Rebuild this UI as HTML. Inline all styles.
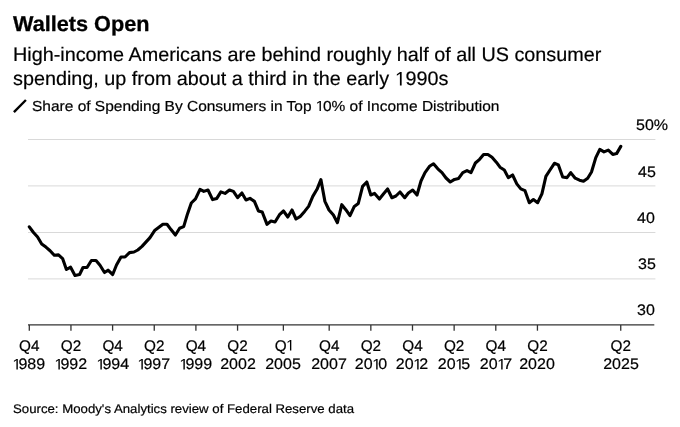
<!DOCTYPE html>
<html><head><meta charset="utf-8"><style>
html,body{margin:0;padding:0;background:#fff;}
body{width:680px;height:427px;position:relative;overflow:hidden;font-family:"Liberation Sans",sans-serif;color:#000;}
.t{position:absolute;white-space:nowrap;line-height:1;}
.t{transform-origin:0 0;}
.t,.xl,.yl{text-rendering:geometricPrecision;}
#wrap{position:absolute;left:0;top:0;width:680px;height:427px;will-change:transform;}
#title{left:13.2px;top:13.9px;font-size:21.5px;font-weight:bold;transform:scaleX(1.008);}
#s1{left:12.7px;top:46px;font-size:19.5px;transform:scaleX(1.0145);}
#s2{left:12.7px;top:70.4px;font-size:19.5px;transform:scaleX(1.0145);}
#lg{left:32.3px;top:100.3px;font-size:14.5px;transform:scaleX(1.068);}
#src{left:12.6px;top:403.3px;font-size:12.5px;transform:scaleX(1.057);}
.xl{position:absolute;width:60px;text-align:center;font-size:15.3px;line-height:1;white-space:nowrap;transform:scale(1.047,1.0);transform-origin:50% 100%;}
.xq{transform:scale(1.0,1.0);}
.o{margin-left:-1.1px;margin-right:-1.6px;}
.t,.xl,.yl{-webkit-text-stroke:0.2px #000;}
#title{-webkit-text-stroke:0.3px #000;}
.yl{position:absolute;font-size:15.3px;line-height:1;white-space:nowrap;transform:scale(1.047,1.0);transform-origin:0 100%;}
svg{position:absolute;left:0;top:0;}
</style></head><body><div id="wrap">
<svg width="680" height="427" viewBox="0 0 680 427">
<line x1="28" y1="139.5" x2="655.4" y2="139.5" stroke="#d9d9d9" stroke-width="1"/><line x1="28" y1="185.9" x2="655.4" y2="185.9" stroke="#d9d9d9" stroke-width="1"/><line x1="28" y1="232.5" x2="655.4" y2="232.5" stroke="#d9d9d9" stroke-width="1"/><line x1="28" y1="278.9" x2="655.4" y2="278.9" stroke="#d9d9d9" stroke-width="1"/>
<line x1="28" y1="324.9" x2="654.3" y2="324.9" stroke="#333" stroke-width="1.2"/>
<line x1="29.30" y1="324.9" x2="29.30" y2="330.7" stroke="#333" stroke-width="1.3"/><line x1="70.95" y1="324.9" x2="70.95" y2="330.7" stroke="#333" stroke-width="1.3"/><line x1="112.60" y1="324.9" x2="112.60" y2="330.7" stroke="#333" stroke-width="1.3"/><line x1="154.25" y1="324.9" x2="154.25" y2="330.7" stroke="#333" stroke-width="1.3"/><line x1="195.90" y1="324.9" x2="195.90" y2="330.7" stroke="#333" stroke-width="1.3"/><line x1="237.56" y1="324.9" x2="237.56" y2="330.7" stroke="#333" stroke-width="1.3"/><line x1="283.37" y1="324.9" x2="283.37" y2="330.7" stroke="#333" stroke-width="1.3"/><line x1="329.19" y1="324.9" x2="329.19" y2="330.7" stroke="#333" stroke-width="1.3"/><line x1="370.84" y1="324.9" x2="370.84" y2="330.7" stroke="#333" stroke-width="1.3"/><line x1="412.49" y1="324.9" x2="412.49" y2="330.7" stroke="#333" stroke-width="1.3"/><line x1="454.14" y1="324.9" x2="454.14" y2="330.7" stroke="#333" stroke-width="1.3"/><line x1="495.79" y1="324.9" x2="495.79" y2="330.7" stroke="#333" stroke-width="1.3"/><line x1="537.44" y1="324.9" x2="537.44" y2="330.7" stroke="#333" stroke-width="1.3"/><line x1="620.74" y1="324.9" x2="620.74" y2="330.7" stroke="#333" stroke-width="1.3"/>
<polyline points="29.3,226.8 33.5,232.5 37.6,237.0 41.7,244.0 45.9,247.1 50.1,250.7 54.3,255.3 58.5,254.9 62.6,258.6 66.4,269.5 70.6,267.2 75.0,275.5 79.6,274.5 83.0,267.5 87.0,267.5 91.4,260.5 96.0,260.5 100.0,265.2 104.5,272.5 108.0,270.2 112.7,274.5 116.5,265.0 121.0,257.0 125.0,257.0 129.5,252.6 134.0,252.0 137.8,250.0 142.0,246.4 150.0,237.6 154.6,230.6 158.6,227.6 162.9,224.3 167.0,224.3 171.0,229.6 175.4,235.0 179.6,228.3 183.7,226.6 187.5,213.9 191.3,203.0 195.5,198.9 200.0,189.3 203.8,191.4 208.0,190.0 212.6,199.6 216.8,198.4 220.9,191.9 225.0,193.4 229.4,190.0 233.4,191.4 237.6,197.6 241.9,193.0 246.0,200.0 250.0,198.4 254.4,201.4 258.4,210.9 262.2,212.0 267.0,224.4 271.0,221.0 275.0,222.0 279.5,214.7 283.5,211.0 287.8,217.0 292.0,210.0 296.0,219.0 300.0,216.7 304.6,211.4 308.6,206.4 312.8,196.4 317.0,189.3 320.9,179.6 324.9,201.4 329.0,210.0 333.4,215.0 337.4,222.7 341.8,204.7 345.8,209.7 350.0,215.7 354.3,206.4 358.3,203.4 362.6,186.4 366.8,182.0 370.8,195.0 374.6,193.4 379.4,199.0 383.4,194.0 387.6,189.0 391.9,197.7 395.9,196.0 400.0,192.0 404.7,197.7 408.4,193.0 412.7,190.0 417.0,195.0 421.0,181.0 425.0,172.6 429.5,166.3 433.5,163.8 437.8,168.8 442.0,172.6 446.0,178.0 450.3,182.0 454.5,179.4 458.6,178.4 462.8,172.6 467.0,170.6 471.0,172.6 475.4,163.0 479.6,159.3 483.6,154.5 487.9,154.5 492.0,157.3 496.3,162.2 500.0,167.2 504.3,170.0 508.3,177.6 512.6,175.0 516.8,183.9 520.8,188.9 525.0,190.7 529.3,202.7 533.4,199.5 537.6,202.7 541.9,193.9 545.9,176.4 550.0,170.0 554.4,163.3 558.4,164.9 562.7,177.0 567.0,177.6 570.7,172.6 575.2,178.2 579.5,180.2 583.5,181.2 587.7,178.2 591.5,172.0 595.8,157.6 599.8,149.4 604.0,151.9 608.3,150.1 612.8,154.4 616.6,153.6 620.8,146.4" fill="none" stroke="#000" stroke-width="3.1" stroke-linejoin="round" stroke-linecap="round"/>
<line x1="13.9" y1="112.2" x2="25.9" y2="100.0" stroke="#000" stroke-width="2.4" stroke-linecap="butt"/>
</svg>
<div class="t" id="title">Wallets Open</div>
<div class="t" id="s1">High-income Americans are behind roughly half of all US consumer</div>
<div class="t" id="s2">spending, up from about a third in the early <svg class="one" width="10.84" height="13.42" viewBox="-50 0 1139 1409" style="position:static;vertical-align:baseline;overflow:visible"><path d="M515 1409V172L197 399V229L530 0H696V1409Z" fill="#000"/></svg>990s</div>
<div class="t" id="lg">Share of Spending By Consumers in Top <svg class="one" width="6.66" height="9.98" viewBox="60 0 940 1409" style="position:static;vertical-align:baseline;overflow:visible"><path d="M515 1409V172L197 399V229L530 0H696V1409Z" fill="#000"/></svg>0% of Income Distribution</div>
<div class="yl" style="top:117.5px;left:636.3px">50%</div><div class="yl" style="top:164.5px;left:637.6px">45</div><div class="yl" style="top:210.5px;left:637.3px">40</div><div class="yl" style="top:256.5px;left:637.6px">35</div><div class="yl" style="top:302.5px;left:637.3px">30</div>
<div class="xl xq" style="left:-0.70px;top:338.95px">Q4</div><div class="xl" style="left:-0.70px;top:357.05px"><svg class="one" width="5.30" height="10.53" viewBox="117 0 710 1409" style="position:static;vertical-align:baseline;overflow:visible"><path d="M515 1409V172L197 399V229L530 0H696V1409Z" fill="#000"/></svg>989</div><div class="xl xq" style="left:40.95px;top:338.95px">Q2</div><div class="xl" style="left:40.95px;top:357.05px"><svg class="one" width="5.30" height="10.53" viewBox="117 0 710 1409" style="position:static;vertical-align:baseline;overflow:visible"><path d="M515 1409V172L197 399V229L530 0H696V1409Z" fill="#000"/></svg>992</div><div class="xl xq" style="left:82.60px;top:338.95px">Q4</div><div class="xl" style="left:82.60px;top:357.05px"><svg class="one" width="5.30" height="10.53" viewBox="117 0 710 1409" style="position:static;vertical-align:baseline;overflow:visible"><path d="M515 1409V172L197 399V229L530 0H696V1409Z" fill="#000"/></svg>994</div><div class="xl xq" style="left:124.25px;top:338.95px">Q2</div><div class="xl" style="left:124.25px;top:357.05px"><svg class="one" width="5.30" height="10.53" viewBox="117 0 710 1409" style="position:static;vertical-align:baseline;overflow:visible"><path d="M515 1409V172L197 399V229L530 0H696V1409Z" fill="#000"/></svg>997</div><div class="xl xq" style="left:165.90px;top:338.95px">Q4</div><div class="xl" style="left:165.90px;top:357.05px"><svg class="one" width="5.30" height="10.53" viewBox="117 0 710 1409" style="position:static;vertical-align:baseline;overflow:visible"><path d="M515 1409V172L197 399V229L530 0H696V1409Z" fill="#000"/></svg>999</div><div class="xl xq" style="left:207.56px;top:338.95px">Q2</div><div class="xl" style="left:207.56px;top:357.05px">2002</div><div class="xl xq" style="left:253.37px;top:338.95px">Q<svg class="one" width="5.30" height="10.53" viewBox="117 0 710 1409" style="position:static;vertical-align:baseline;overflow:visible"><path d="M515 1409V172L197 399V229L530 0H696V1409Z" fill="#000"/></svg></div><div class="xl" style="left:253.37px;top:357.05px">2005</div><div class="xl xq" style="left:299.19px;top:338.95px">Q4</div><div class="xl" style="left:299.19px;top:357.05px">2007</div><div class="xl xq" style="left:340.84px;top:338.95px">Q2</div><div class="xl" style="left:340.84px;top:357.05px">20<svg class="one" width="5.30" height="10.53" viewBox="117 0 710 1409" style="position:static;vertical-align:baseline;overflow:visible"><path d="M515 1409V172L197 399V229L530 0H696V1409Z" fill="#000"/></svg>0</div><div class="xl xq" style="left:382.49px;top:338.95px">Q4</div><div class="xl" style="left:382.49px;top:357.05px">20<svg class="one" width="5.30" height="10.53" viewBox="117 0 710 1409" style="position:static;vertical-align:baseline;overflow:visible"><path d="M515 1409V172L197 399V229L530 0H696V1409Z" fill="#000"/></svg>2</div><div class="xl xq" style="left:424.14px;top:338.95px">Q2</div><div class="xl" style="left:424.14px;top:357.05px">20<svg class="one" width="5.30" height="10.53" viewBox="117 0 710 1409" style="position:static;vertical-align:baseline;overflow:visible"><path d="M515 1409V172L197 399V229L530 0H696V1409Z" fill="#000"/></svg>5</div><div class="xl xq" style="left:465.79px;top:338.95px">Q4</div><div class="xl" style="left:465.79px;top:357.05px">20<svg class="one" width="5.30" height="10.53" viewBox="117 0 710 1409" style="position:static;vertical-align:baseline;overflow:visible"><path d="M515 1409V172L197 399V229L530 0H696V1409Z" fill="#000"/></svg>7</div><div class="xl xq" style="left:507.44px;top:338.95px">Q2</div><div class="xl" style="left:507.44px;top:357.05px">2020</div><div class="xl xq" style="left:590.74px;top:338.95px">Q2</div><div class="xl" style="left:590.74px;top:357.05px">2025</div>
<div class="t" id="src">Source: Moody's Analytics review of Federal Reserve data</div>
</div></body></html>
